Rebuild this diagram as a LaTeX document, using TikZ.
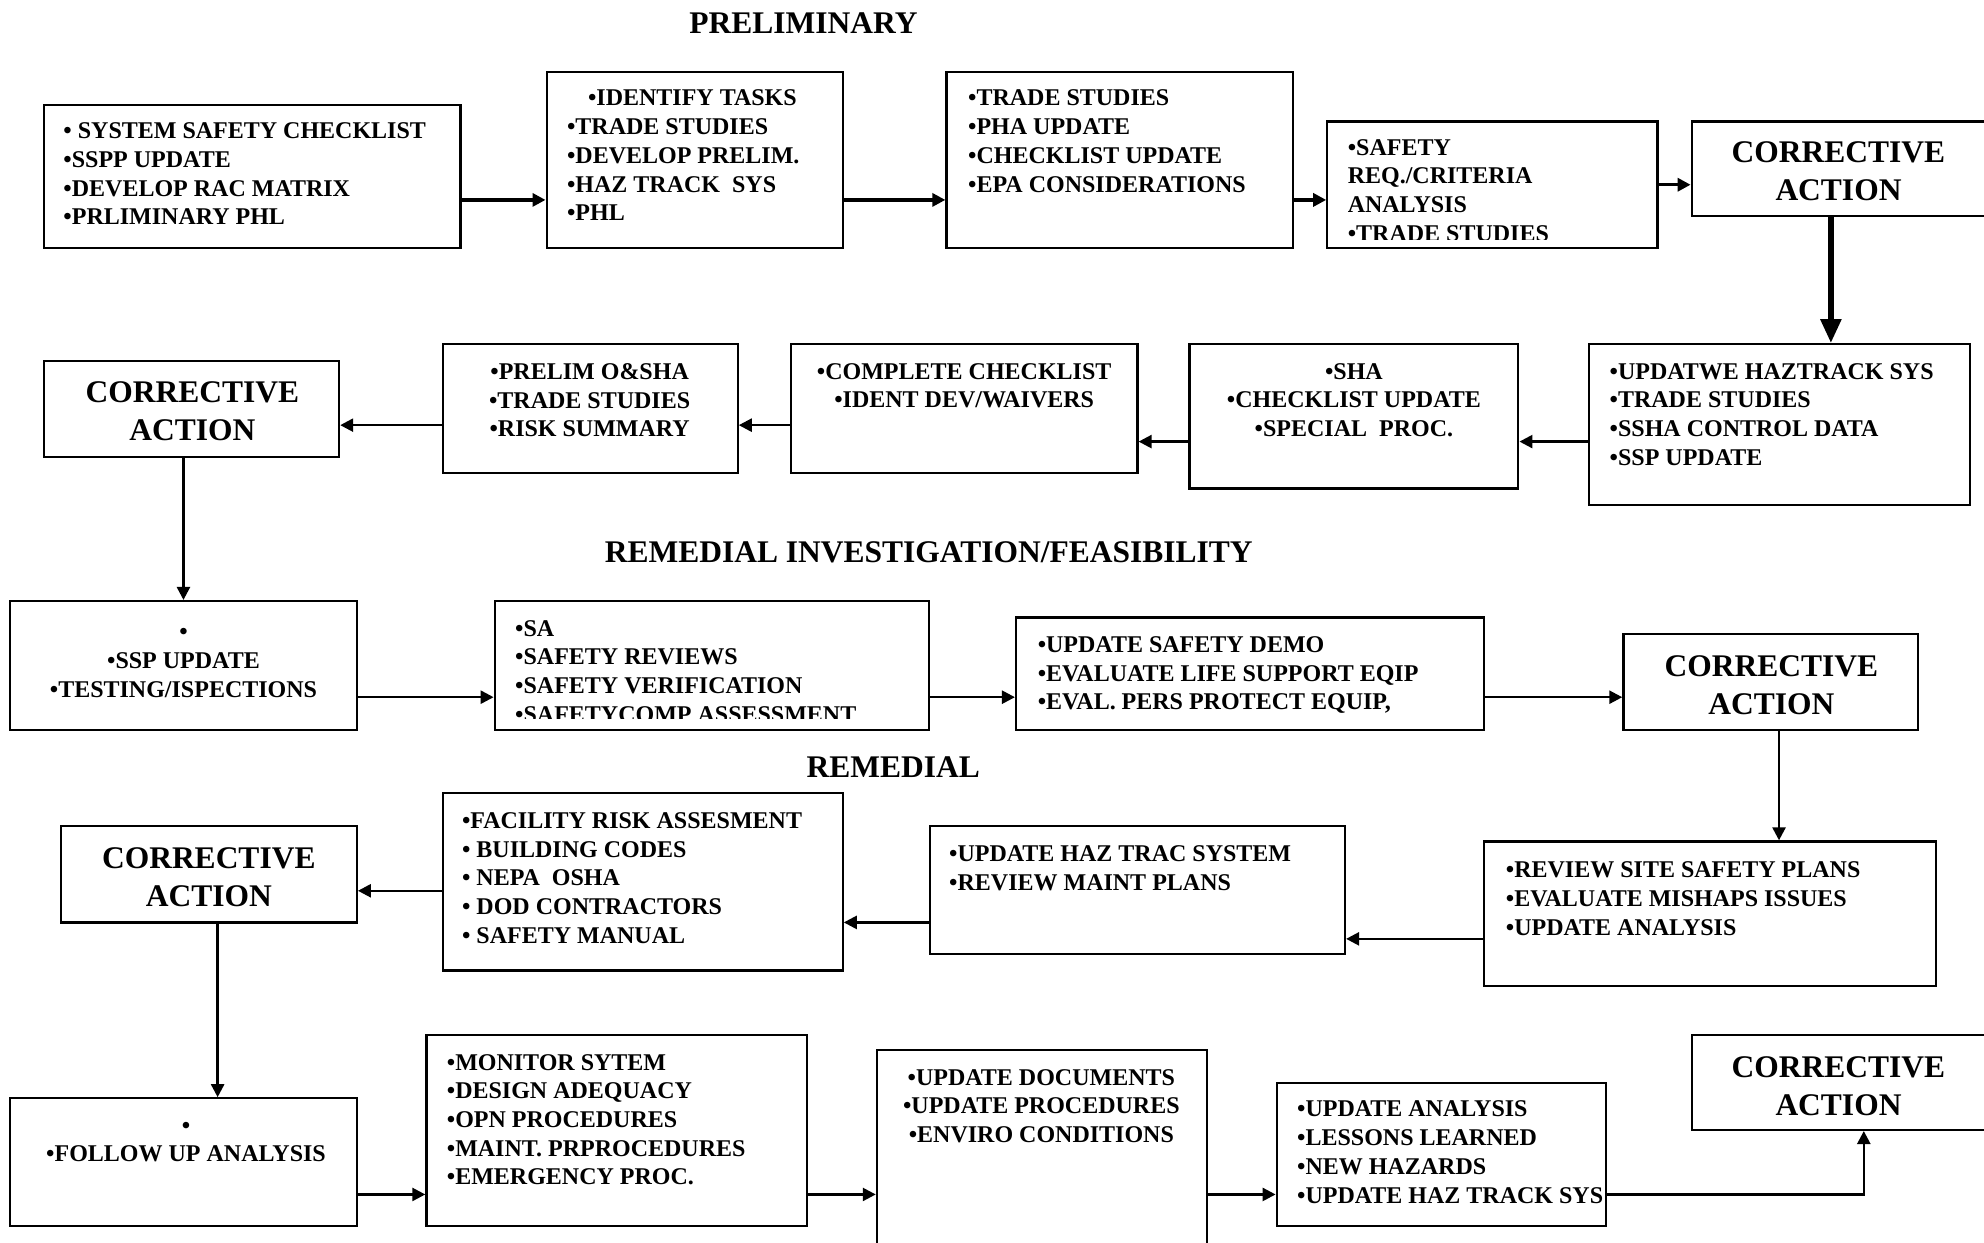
\documentclass[tikz,border=0pt]{standalone}
\usepackage{fontspec}
\setmainfont{Liberation Serif}
\usetikzlibrary{fit,arrows.meta}
\newcommand\capH{\vphantom{H}}
\tikzset{
  box/.style={draw, line width=2.2pt, inner sep=0pt},
  txt/.style={inner sep=0pt, align=left, anchor=north west, font=\fontsize{24pt}{28.7pt}\selectfont\bfseries},
  ctxt/.style={txt, align=center, anchor=north},
  corr/.style={inner sep=0pt, align=center, anchor=north, font=\fontsize{31.5pt}{38pt}\selectfont\bfseries},
  ttl/.style={inner sep=0pt, anchor=base, font=\fontsize{31.5pt}{38pt}\selectfont\bfseries},
  arr/.style={line width=2.5pt, -{Triangle[length=13pt,width=13pt]}},
  arrA/.style={arr, line width=3.2pt},
  bigarr/.style={line width=5.5pt, -{Triangle[length=24pt,width=20pt]}}
}
\begin{document}
\begin{tikzpicture}[x=1.2653pt, y=-1.2653pt]
\useasboundingbox (0,0) rectangle (1568,982);
\fill[white] (0,0) rectangle (1568,982);

% titles
\node[ttl] (t1) at (635,26.3) {PRELIMINARY};
\node[ttl] (t2) at (734,444.3) {REMEDIAL INVESTIGATION/FEASIBILITY};
\node[ttl] (t3) at (706,614.3) {REMEDIAL};

% ---------- row 1 ----------
\node[box, fit={(35,83)(364,196)}] (a1) {};
\node[txt] (a1t) at (50,97) {\capH• SYSTEM SAFETY CHECKLIST\\•SSPP UPDATE\\•DEVELOP RAC MATRIX\\•PRLIMINARY PHL};
\node[box, fit={(432,57)(666,196)}] (a2) {};
\node[txt] (a2t) at (448,71) {\capH\hspace*{21pt}•IDENTIFY TASKS\\•TRADE STUDIES\\•DEVELOP PRELIM.\\•HAZ TRACK\ \ SYS\\•PHL};
\node[box, fit={(748,57)(1022,196)}] (a3) {};
\node[txt] (a3t) at (765,71) {\capH•TRADE STUDIES\\•PHA UPDATE\\•CHECKLIST UPDATE\\•EPA CONSIDERATIONS};
\node[box, fit={(1049,96)(1310,196)}] (a4) {};
\begin{scope}
\clip (1049,96) rectangle (1310,189);
\node[txt] (a4t) at (1065,110) {\capH•SAFETY\\REQ./CRITERIA\\ANALYSIS\\•TRADE STUDIES};
\end{scope}
\node[box, fit={(1337,96)(1585,171)}] (a5) {};
\node[corr] (a5t) at (1453,111.7) {CORRECTIVE\\ACTION};

\coordinate (r1) at (0,158);
\coordinate (r1b) at (0,146);
\draw[arrA] (a1.east |- r1) -- (a2.west |- r1);
\draw[arrA] (a2.east |- r1) -- (a3.west |- r1);
\draw[arrA] (a3.east |- r1) -- (a4.west |- r1);
\draw[arrA] (a4.east |- r1b) -- (a5.west |- r1b);

% ---------- row 2 ----------
\node[box, fit={(1256,272)(1557,399)}] (b1) {};
\node[txt] (b1t) at (1272,287) {\capH•UPDATWE HAZTRACK SYS\\•TRADE STUDIES\\•SSHA CONTROL DATA\\•SSP UPDATE};
\node[box, fit={(940,272)(1200,386)}] (b2) {};
\node[ctxt] (b2t) at (1070,287) {\capH•SHA\\•CHECKLIST UPDATE\\•SPECIAL\ \ PROC.};
\node[box, fit={(625,272)(899,374)}] (b3) {};
\node[ctxt] (b3t) at (762,287) {\capH•COMPLETE CHECKLIST\\•IDENT DEV/WAIVERS};
\node[box, fit={(350,272)(583,374)}] (b4) {};
\node[ctxt] (b4t) at (466,287) {\capH•PRELIM O\&SHA\\•TRADE STUDIES\\•RISK SUMMARY};
\node[box, fit={(35,285)(268,361)}] (b5) {};
\node[corr] (b5t) at (152,301.7) {CORRECTIVE\\ACTION};

\coordinate (v1) at (1447,0);
\draw[bigarr] (a5.south -| v1) -- (b1.north -| v1);

\coordinate (r2a) at (0,349);
\coordinate (r2b) at (0,336);
\draw[arr] (b1.west |- r2a) -- (b2.east |- r2a);
\draw[arr] (b2.west |- r2a) -- (b3.east |- r2a);
\draw[arr] (b3.west |- r2b) -- (b4.east |- r2b);
\draw[arr] (b4.west |- r2b) -- (b5.east |- r2b);

% ---------- row 3 ----------
\node[box, fit={(8,475)(282,577)}] (c1) {};
\node[ctxt] (c1t) at (145,493) {\capH•\\•SSP UPDATE\\•TESTING/ISPECTIONS};
\node[box, fit={(391,475)(734,577)}] (c2) {};
\begin{scope}
\clip (391,475) rectangle (734,568);
\node[txt] (c2t) at (407,490) {\capH•SA\\•SAFETY REVIEWS\\•SAFETY VERIFICATION\\•SAFETYCOMP ASSESSMENT};
\end{scope}
\node[box, fit={(803,488)(1173,577)}] (c3) {};
\node[txt] (c3t) at (820,503) {\capH•UPDATE SAFETY DEMO\\•EVALUATE LIFE SUPPORT EQIP\\•EVAL. PERS PROTECT EQUIP,};
\node[box, fit={(1283,501)(1516,577)}] (c4) {};
\node[corr] (c4t) at (1400,517.7) {CORRECTIVE\\ACTION};

\coordinate (v2) at (145,0);
\draw[arr] (b5.south -| v2) -- (c1.north -| v2);

\coordinate (r3) at (0,551);
\draw[arr] (c1.east |- r3) -- (c2.west |- r3);
\draw[arr] (c2.east |- r3) -- (c3.west |- r3);
\draw[arr] (c3.east |- r3) -- (c4.west |- r3);

% ---------- row 4 ----------
\node[box, fit={(1173,665)(1530,779)}] (d1) {};
\node[txt] (d1t) at (1190,681) {\capH•REVIEW SITE SAFETY PLANS\\•EVALUATE MISHAPS ISSUES\\•UPDATE ANALYSIS};
\node[box, fit={(735,653)(1063,754)}] (d2) {};
\node[txt] (d2t) at (750,668) {\capH•UPDATE HAZ TRAC SYSTEM\\•REVIEW MAINT PLANS};
\node[box, fit={(350,627)(666,767)}] (d3) {};
\node[txt] (d3t) at (365,642) {\capH•FACILITY RISK ASSESMENT\\• BUILDING CODES\\• NEPA\ \ OSHA\\• DOD CONTRACTORS\\• SAFETY MANUAL};
\node[box, fit={(48,653)(282,729)}] (d4) {};
\node[corr] (d4t) at (165,669.7) {CORRECTIVE\\ACTION};

\coordinate (v3) at (1406,0);
\draw[arr] (c4.south -| v3) -- (d1.north -| v3);

\coordinate (r4a) at (0,742);
\coordinate (r4b) at (0,729);
\coordinate (r4c) at (0,704);
\draw[arr] (d1.west |- r4a) -- (d2.east |- r4a);
\draw[arr] (d2.west |- r4b) -- (d3.east |- r4b);
\draw[arr] (d3.west |- r4c) -- (d4.east |- r4c);

% ---------- row 5 ----------
\node[box, fit={(8,868)(282,969)}] (e1) {};
\node[ctxt] (e1t) at (147,883) {\capH•\\•FOLLOW UP ANALYSIS};
\node[box, fit={(337,818)(638,969)}] (e2) {};
\node[txt] (e2t) at (353,833) {\capH•MONITOR SYTEM\\•DESIGN ADEQUACY\\•OPN PROCEDURES\\•MAINT. PRPROCEDURES\\•EMERGENCY PROC.};
\node[box, fit={(693,830)(954,995)}] (e3) {};
\node[ctxt] (e3t) at (823,845) {\capH•UPDATE DOCUMENTS\\•UPDATE PROCEDURES\\•ENVIRO CONDITIONS};
\node[box, fit={(1009,856)(1269,969)}] (e4) {};
\node[txt] (e4t) at (1025,870) {\capH•UPDATE ANALYSIS\\•LESSONS LEARNED\\•NEW HAZARDS\\•UPDATE HAZ TRACK SYS};
\node[box, fit={(1337,818)(1585,893)}] (e5) {};
\node[corr] (e5t) at (1453,834.7) {CORRECTIVE\\ACTION};

\coordinate (v4) at (172,0);
\draw[arr] (d4.south -| v4) -- (e1.north -| v4);

\coordinate (r5) at (0,944);
\coordinate (v5) at (1473,0);
\draw[arr] (e1.east |- r5) -- (e2.west |- r5);
\draw[arr] (e2.east |- r5) -- (e3.west |- r5);
\draw[arr] (e3.east |- r5) -- (e4.west |- r5);
\draw[arr] (e4.east |- r5) -| (e5.south -| v5);
\end{tikzpicture}
\end{document}
